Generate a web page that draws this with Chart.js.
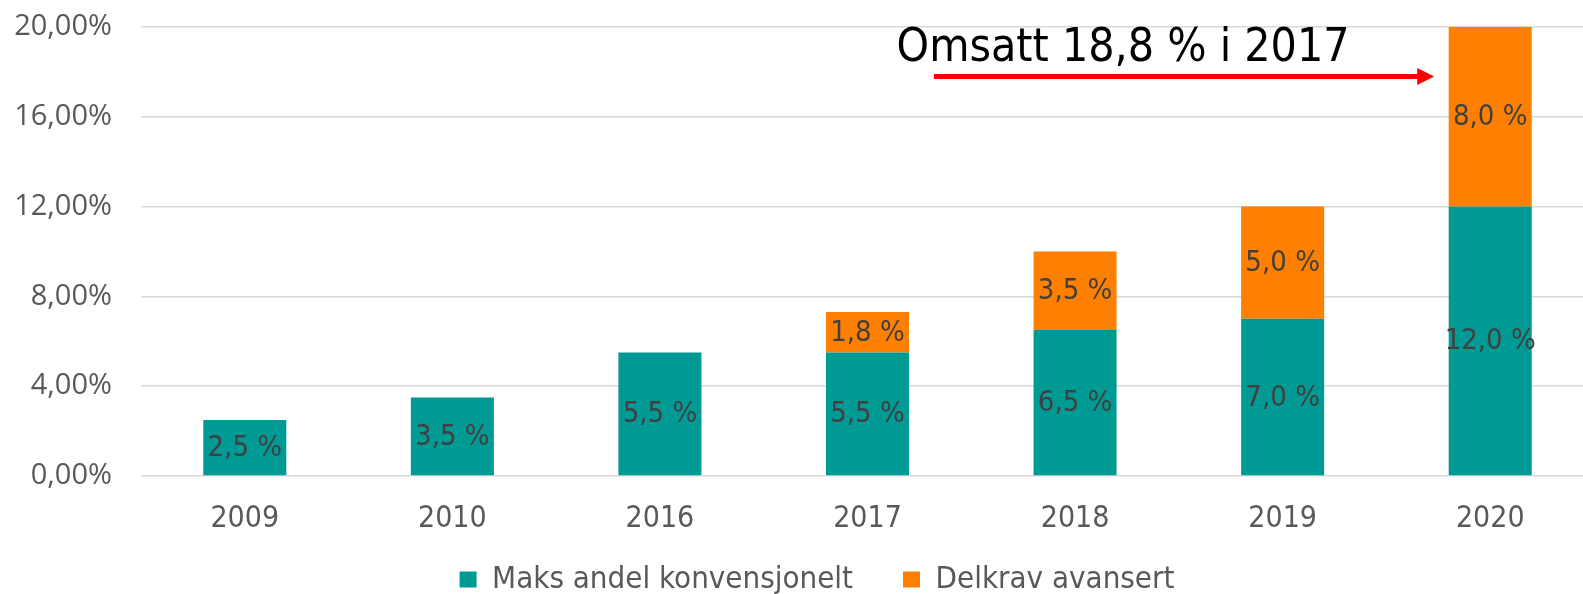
<!DOCTYPE html>
<html>
<head>
<meta charset="utf-8">
<script src="https://cdn.jsdelivr.net/npm/chart.js@4/dist/chart.umd.min.js"></script>
<style>
  html, body { margin: 0; padding: 0; background: #fff; overflow: hidden; }
  #wrap { position: relative; width: 1636px; height: 594px; }
</style>
</head>
<body>
<div id="wrap"><canvas id="chart"></canvas></div>
<script>
const YEARS = ['2009', '2010', '2016', '2017', '2018', '2019', '2020'];
const KONVENSJONELT = [2.5, 3.5, 5.5, 5.5, 6.5, 7.0, 12.0];
const AVANSERT = [null, null, null, 1.8, 3.5, 5.0, 8.0];
const SERIES_NAMES = ['Maks andel konvensjonelt', 'Delkrav avansert'];
const Y_TICKS = [0, 4, 8, 12, 16, 20];

// note + arrow, in chart units: [category index, percent]
const NOTE_TEXT = 'Omsatt 18,8 % i 2017';
const NOTE_AT = [3.14, 18.5];
const ARROW_FROM = [3.32, 17.8];
const ARROW_TO = [5.73, 17.8];

const NARROW = "'DejaVu Sans Condensed', sans-serif";
const TEAL = '#009A94';
const ORANGE = '#FF8000';

const fmt = v => v.toFixed(1).replace('.', ',') + ' %';

const barLabels = {
  id: 'barLabels',
  afterDatasetsDraw(chart) {
    const ctx = chart.ctx;
    ctx.save();
    ctx.font = `29px ${NARROW}`;
    ctx.fillStyle = '#404040';
    ctx.textAlign = 'center';
    ctx.textBaseline = 'middle';
    chart.data.datasets.forEach((ds, i) => {
      chart.getDatasetMeta(i).data.forEach((bar, j) => {
        const v = ds.data[j];
        if (v == null) return;
        const p = bar.getProps(['x', 'y', 'base'], true);
        ctx.fillText(fmt(v), p.x, (p.y + p.base) / 2 + 1);
      });
    });
    ctx.restore();
  }
};

const note = {
  id: 'note',
  afterDraw(chart) {
    const {ctx, scales: {x, y}} = chart;
    ctx.save();
    ctx.font = `46px ${NARROW}`;
    ctx.fillStyle = '#000';
    ctx.textBaseline = 'alphabetic';
    ctx.fillText(NOTE_TEXT, x.getPixelForValue(NOTE_AT[0]), y.getPixelForValue(NOTE_AT[1]));

    const x1 = x.getPixelForValue(ARROW_FROM[0]);
    const x2 = x.getPixelForValue(ARROW_TO[0]);
    const ay = y.getPixelForValue(ARROW_FROM[1]);
    ctx.strokeStyle = '#FF0000';
    ctx.fillStyle = '#FF0000';
    ctx.lineWidth = 5;
    ctx.beginPath();
    ctx.moveTo(x1, ay);
    ctx.lineTo(x2 - 16, ay);
    ctx.stroke();
    ctx.beginPath();
    ctx.moveTo(x2 - 17, ay - 8.5);
    ctx.lineTo(x2, ay);
    ctx.lineTo(x2 - 17, ay + 8.5);
    ctx.closePath();
    ctx.fill();
    ctx.restore();
  }
};

// pull the legend row up under the year labels, and a bit to the right
const legendNudge = {
  id: 'legendNudge',
  afterLayout(chart) {
    const lg = chart.legend;
    if (!lg) return;
    lg.top -= 23;
    lg.left += 20;
    lg.right += 20;
  }
};

new Chart(document.getElementById('chart'), {
  type: 'bar',
  data: {
    labels: YEARS,
    datasets: [
      {
        label: SERIES_NAMES[0],
        data: KONVENSJONELT,
        backgroundColor: TEAL,
        categoryPercentage: 1,
        barPercentage: 0.4,
      },
      {
        label: SERIES_NAMES[1],
        data: AVANSERT,
        backgroundColor: ORANGE,
        categoryPercentage: 1,
        barPercentage: 0.4,
      },
    ]
  },
  options: {
    responsive: true,
    maintainAspectRatio: false,
    animation: false,
    layout: { padding: { top: 0, right: 42, bottom: 0, left: 0 } },
    scales: {
      x: {
        stacked: true,
        afterFit: s => { s.height = 61; },
        grid: { display: false, drawTicks: false },
        border: { display: false },
        ticks: {
          color: '#595959',
          font: { family: NARROW, size: 30 },
          padding: 25,
        },
      },
      y: {
        stacked: true,
        min: 0,
        max: 20,
        afterBuildTicks: s => { s.ticks = Y_TICKS.map(v => ({ value: v })); },
        afterFit: s => { s.width = 141; s.paddingTop = 27; s.paddingBottom = 0; },
        grid: { color: '#d9d9d9', lineWidth: 1.5, drawTicks: false },
        border: { display: false },
        ticks: {
          color: '#595959',
          font: { family: "'Open Sans', sans-serif", size: 29 },
          padding: 29,
          callback: v => v.toFixed(2).replace('.', ',') + '%',
        },
      },
    },
    plugins: {
      tooltip: { enabled: false },
      legend: {
        position: 'bottom',
        maxHeight: 57,
        labels: {
          color: '#595959',
          font: { family: NARROW, size: 31 },
          boxWidth: 17,
          boxHeight: 16,
          padding: 50,
        },
      },
    },
  },
  plugins: [barLabels, note, legendNudge],
});
</script>
</body>
</html>
